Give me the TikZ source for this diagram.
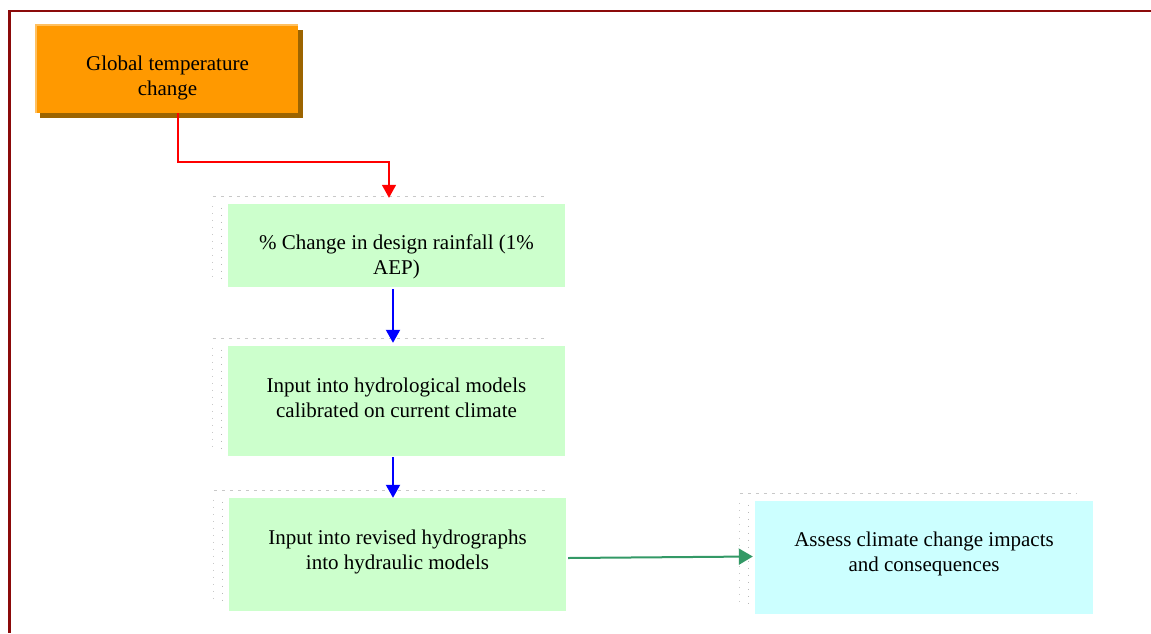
\documentclass[tikz,border=0pt]{standalone}
\usepackage{fontspec}
\setmainfont{Liberation Serif}
\usetikzlibrary{arrows.meta,calc}
\definecolor{framered}{HTML}{8B0A0A}
\definecolor{orangefill}{HTML}{FF9900}
\definecolor{orangehi}{HTML}{FFC060}
\definecolor{orangeshadow}{HTML}{9C6400}
\definecolor{greenfill}{HTML}{CCFFCC}
\definecolor{cyanfill}{HTML}{CCFFFF}
\definecolor{linkgreen}{HTML}{339966}
\definecolor{guidegray}{HTML}{C8C8C8}

% light dashed/dotted guide marks above and left of a box
\newcommand\boxguides[1]{%
  \draw[guidegray, line width=0.8, dash pattern=on 3pt off 5pt]
    ($(#1.north west)+(-15,-7)$) -- ($(#1.north east)+(-17,-7)$);
  \draw[guidegray, line width=0.9, dash pattern=on 1pt off 6pt]
    ($(#1.north west)+(-15,2)$) -- ($(#1.south west)+(-15,-10)$);
  \draw[guidegray!80!gray, line width=0.9, dash pattern=on 1pt off 6pt]
    ($(#1.north west)+(-6,4)$) -- ($(#1.south west)+(-6,-6)$);
}

\begin{document}
\begin{tikzpicture}[x=1pt,y=-1pt,
  every node/.style={inner sep=0pt},
  panel/.style={rectangle, draw=none, fill=#1},
  label text/.style={align=center, font=\fontsize{21}{25}\selectfont},
  link/.style={line width=#1, -{Triangle[length=13pt,width=14pt]}},
]
\useasboundingbox (0,0) rectangle (1151,633);
\fill[white] (0,0) rectangle (1151,633);

% outer frame (continues past the right and bottom edges)
\draw[framered, line width=2.4] (1151,11) -- (9.5,11) -- (9.5,633);

% top box with raised edge and drop shadow
\fill[orangeshadow] (40,30) rectangle (303,117.5);
\node[panel=orangefill, minimum width=263, minimum height=89] (g) at (166.5,68.5) {};
\draw[orangehi, line width=2.2] ([xshift=1]g.south west) -- ([xshift=1,yshift=-1]g.north west) -- ([yshift=-1]g.north east);
\node[label text] (gt) at (167.5,78) {Global temperature\\change};

% process boxes
\node[panel=greenfill, minimum width=337, minimum height=83]  (b2) at (396.5,245.5) {};
\node[panel=greenfill, minimum width=337, minimum height=110] (b3) at (396.5,401) {};
\node[panel=greenfill, minimum width=337, minimum height=113] (b4) at (397.5,554.5) {};
\node[panel=cyanfill,  minimum width=338, minimum height=113] (b5) at (924,557.5) {};

\boxguides{b2}
\boxguides{b3}
\boxguides{b4}
\boxguides{b5}

\node[label text] (t2) at (396.5,257) {\% Change in design rainfall (1\%\\AEP)};
\node[label text] (t3) at (396.5,397.5) {Input into hydrological models\\calibrated on current climate};
\node[label text] (t4) at (397.5,551.5) {Input into revised hydrographs\\into hydraulic models};
\node[label text] (t5) at (924,554) {Assess climate change impacts\\and consequences};

% connectors
\draw[link=1.6, red] ([xshift=11.5]g.south) -- ++(0,49) -| ([xshift=-7.5,yshift=6]b2.north);
\draw[link=2, blue] ([xshift=-3.5,yshift=-2]b2.south) -- ([xshift=-3.5,yshift=3]b3.north);
\draw[link=2, blue] ([xshift=-3.5,yshift=-1]b3.south) -- ([xshift=-3.5]b3.south |- b4.north);
\draw[link=2, linkgreen, -{Triangle[length=14pt,width=16pt]}] ([xshift=2,yshift=-3.5]b4.east) -- ([xshift=-2,yshift=1]b5.west);
\end{tikzpicture}
\end{document}
